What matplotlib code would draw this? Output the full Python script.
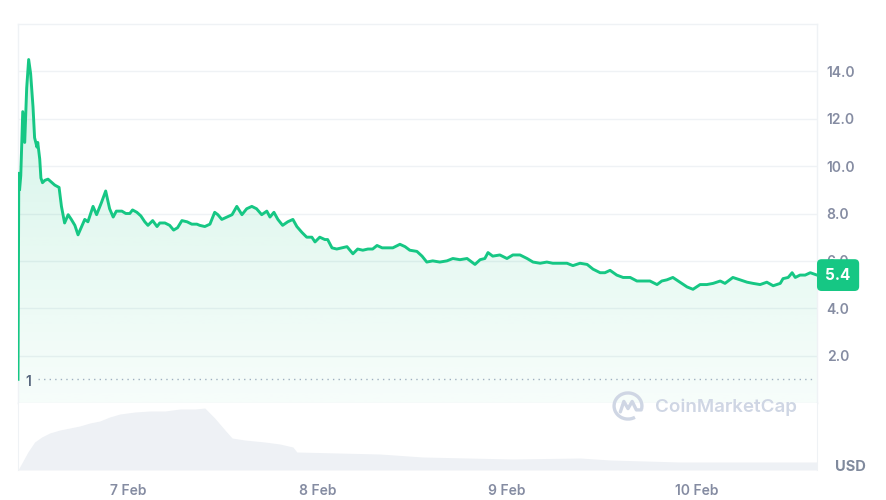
import numpy as np
import pandas as pd
import matplotlib
matplotlib.use("Agg")
import matplotlib.pyplot as plt
import matplotlib.dates as mdates
from matplotlib.patches import Arc

plt.rcParams['font.family'] = ['Inter', 'DejaVu Sans']

# price samples: hours after 6 Feb 00:00, price in USD
price_hours = [10.1, 10.2, 10.3, 10.45, 10.7, 10.95, 11.2, 11.45, 11.7, 12.0,
               12.2, 12.5, 12.6, 12.85, 13.0, 13.2, 13.5, 13.9, 14.4, 14.75,
               15.3, 15.6, 16.0, 16.45, 16.85, 17.3, 17.7, 18.15, 18.55, 18.95,
               19.6, 20.05, 20.65, 21.2, 21.7, 22.15, 22.55, 23.25, 23.75, 24.25,
               24.6, 25.15, 25.65, 26.15, 26.55, 27.15, 27.7, 28.05, 28.7, 29.3,
               29.8, 30.3, 30.85, 31.5, 32.1, 32.75, 33.1, 33.75, 34.4, 35.0,
               35.4, 35.9, 36.55, 37.2, 37.8, 38.45, 39.05, 39.7, 40.3, 40.95,
               41.6, 42.0, 42.5, 43.0, 43.6, 44.25, 44.9, 45.4, 46.05, 46.65,
               47.3, 47.7, 48.3, 48.95, 49.3, 49.85, 50.45, 51.1, 51.75, 52.5,
               53.1, 53.75, 54.4, 55.0, 55.55, 56.2, 56.8, 57.55, 58.45, 59.1,
               59.7, 60.6, 61.25, 61.85, 62.6, 63.5, 64.4, 65.15, 66.05, 66.95,
               67.55, 67.95, 68.6, 69.2, 69.6, 70.2, 71.1, 72.0, 72.75, 73.65,
               74.55, 75.3, 76.2, 77.05, 77.8, 78.7, 79.6, 80.35, 81.25, 82.15,
               82.9, 83.8, 84.4, 85.05, 85.9, 86.7, 87.6, 88.45, 89.2, 90.1,
               91.0, 91.6, 92.25, 93.0, 93.9, 94.8, 95.55, 96.45, 97.3, 98.1,
               99.0, 99.6, 100.6, 101.5, 102.4, 103.15, 104.05, 104.9, 105.7, 106.6,
               106.95, 107.6, 108.1, 108.5, 109.1, 109.75, 110.4, 111.25]
price_usd = [1.0, 9.7, 9.0, 9.6, 12.3, 11.0, 13.3, 14.5, 13.9, 12.5,
             11.2, 10.8, 11.0, 10.3, 9.5, 9.3, 9.4, 9.45, 9.3, 9.2,
             9.1, 8.3, 7.6, 7.95, 7.75, 7.5, 7.1, 7.45, 7.75, 7.65,
             8.3, 7.95, 8.45, 8.95, 8.2, 7.85, 8.1, 8.1, 8.0, 8.0,
             8.15, 8.05, 7.9, 7.65, 7.5, 7.7, 7.45, 7.6, 7.6, 7.5,
             7.3, 7.4, 7.7, 7.65, 7.55, 7.55, 7.5, 7.45, 7.55, 8.05,
             7.95, 7.75, 7.85, 7.95, 8.3, 7.95, 8.2, 8.3, 8.2, 7.95,
             8.1, 7.85, 8.05, 7.75, 7.5, 7.65, 7.75, 7.45, 7.2, 7.0,
             7.0, 6.8, 7.0, 6.9, 6.9, 6.55, 6.5, 6.55, 6.6, 6.3,
             6.5, 6.45, 6.5, 6.5, 6.65, 6.55, 6.55, 6.55, 6.7, 6.6,
             6.45, 6.4, 6.2, 5.95, 6.0, 5.95, 6.0, 6.1, 6.05, 6.1,
             5.95, 5.85, 6.05, 6.1, 6.35, 6.2, 6.25, 6.1, 6.25, 6.25,
             6.1, 5.95, 5.9, 5.95, 5.9, 5.9, 5.9, 5.8, 5.9, 5.85,
             5.65, 5.5, 5.5, 5.6, 5.4, 5.3, 5.3, 5.15, 5.15, 5.15,
             5.0, 5.15, 5.2, 5.3, 5.1, 4.9, 4.8, 5.0, 5.0, 5.05,
             5.15, 5.05, 5.3, 5.2, 5.1, 5.05, 5.0, 5.1, 4.95, 5.05,
             5.25, 5.3, 5.5, 5.3, 5.4, 5.4, 5.5, 5.4]

# volume (relative height of the grey band)
vol_hours = [10.1, 11.35, 12.2, 13.1, 14.1, 15.4, 16.65, 17.9, 19.2, 20.45,
             21.7, 23.0, 24.9, 26.8, 28.7, 30.6, 32.5, 33.75, 35.0, 36.3,
             37.2, 38.8, 41.35, 43.25, 44.9, 45.4, 55.9, 61.35, 72.75, 81.25,
             85.05, 93.9, 111.25]
vol_level = [0, 18, 28, 33, 37, 40, 42, 44, 47, 49,
             53, 56, 58, 59, 59, 61, 61, 62, 52, 40,
             32, 30, 28, 26, 23, 18, 16, 13, 11, 12,
             10, 8, 8]

y_ticks = [2, 4, 6, 8, 10, 12, 14]

start = pd.Timestamp('2023-02-06')
t_price = start + pd.to_timedelta(price_hours, unit='h')
t_vol = start + pd.to_timedelta(vol_hours, unit='h')

GREEN = '#16c784'
GRID = '#eff2f5'
TXT = '#858ca2'

fig = plt.figure(figsize=(8.86, 5.0), dpi=100)
ax = fig.add_axes([18/886, 97/500, 799/886, 379/500])
axv = fig.add_axes([18/886, 30/500, 799/886, 67/500], sharex=ax)

# price line + gradient fill
ax.plot(t_price, price_usd, color=GREEN, lw=2.1, zorder=3, solid_joinstyle='round')
fill = ax.fill_between(t_price, price_usd, 0, color='none', lw=0)
xn = mdates.date2num(t_price)
grad = np.zeros((256, 1, 4))
grad[:, :, :3] = matplotlib.colors.to_rgb(GREEN)
grad[:, 0, 3] = np.linspace(0.19, 0.035, 256)
im = ax.imshow(grad, aspect='auto', origin='upper', zorder=2,
               extent=[xn[0], xn[-1], 0, max(price_usd)])
im.set_clip_path(fill.get_paths()[0], transform=ax.transData)

ax.set_xlim(t_price[0], t_price[-1])
ax.set_ylim(0, 16)
ax.set_yticks(y_ticks)
ax.set_yticklabels([f'{v:.1f}' for v in y_ticks])
ax.yaxis.tick_right()
ax.tick_params(axis='y', length=0, pad=7, labelcolor=TXT, labelsize=10)
for lab in ax.get_yticklabels():
    lab.set_fontweight('semibold')
ax.tick_params(axis='x', length=0, labelbottom=False)
ax.grid(axis='y', color=GRID, lw=1)
ax.set_axisbelow(True)
for s in ax.spines.values():
    s.set_color(GRID)
    s.set_linewidth(1)

# opening price reference
open_price = price_usd[0]
ax.axhline(open_price, xmin=0.025, xmax=0.997, color='#a6b0c3', lw=1,
           linestyle=(0, (1, 3)), zorder=1)
ax.text(0.0125, open_price - 0.1, f'{open_price:g}', transform=ax.get_yaxis_transform(),
        ha='center', va='center', color='#58667e', fontsize=10, fontweight='semibold')

# last price badge
last = price_usd[-1]
ax.text(1.0105, last, f'{last:.1f}', transform=ax.get_yaxis_transform(),
        ha='left', va='center', color='white', fontsize=11, fontweight='bold',
        bbox=dict(boxstyle='round,pad=0.55,rounding_size=0.3', fc=GREEN, ec='none'),
        clip_on=False, zorder=6)

# volume band
axv.fill_between(t_vol, vol_level, 0, color='#eef1f5', lw=0)
axv.set_ylim(0, 67)
axv.set_yticks([])
axv.xaxis.set_major_locator(mdates.DayLocator())
axv.xaxis.set_major_formatter(mdates.DateFormatter('%-d %b'))
axv.tick_params(axis='x', length=0, pad=10, labelcolor=TXT, labelsize=10)
for lab in axv.get_xticklabels():
    lab.set_fontweight('semibold')
for side in ['top', 'bottom']:
    axv.spines[side].set_visible(False)
for side in ['left', 'right']:
    axv.spines[side].set_color(GRID)

fig.text(850/886, 1 - 467/500, 'USD', ha='center', va='center',
         color='#808a9d', fontsize=10.5, fontweight='bold')

# watermark
fig.text(655/886, 1 - 407/500, 'CoinMarketCap', ha='left', va='center',
         color='#cfd6e4', fontsize=13.5, fontweight='semibold')
lax = fig.add_axes([612/886, 1 - 421/500, 32/886, 30/500])
lax.set_xlim(-1.15, 1.15)
lax.set_ylim(-1.15, 1.15)
lax.axis('off')
lax.add_patch(Arc((0, 0), 2, 2, theta1=-15, theta2=300, color='#cfd6e4', lw=2.4))
lax.plot([-0.55, -0.3, 0.0, 0.3, 0.6, 0.95], [-0.45, 0.35, -0.2, 0.35, -0.3, -0.3],
         color='#cfd6e4', lw=2.4, solid_joinstyle='round', solid_capstyle='round')

fig.savefig('out.png', dpi=100)
